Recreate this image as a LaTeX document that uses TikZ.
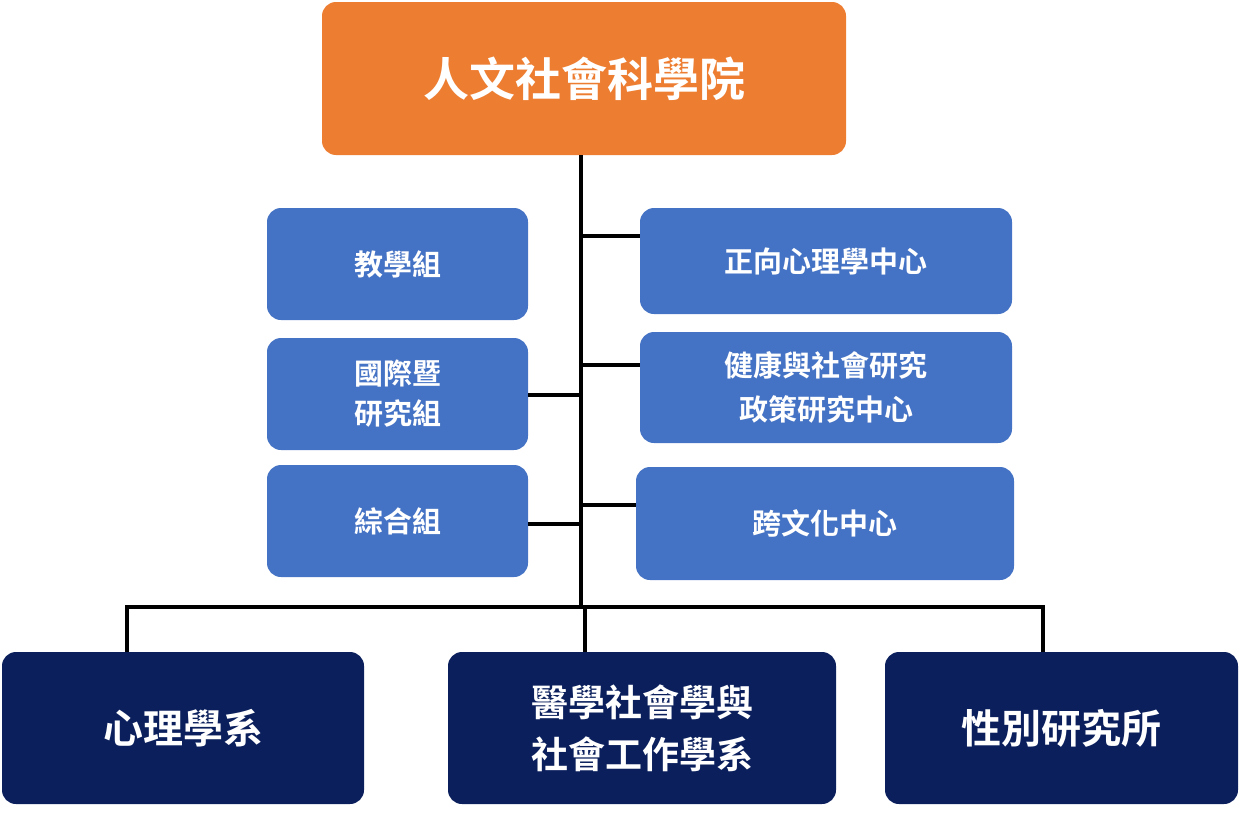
\documentclass[tikz,border=0pt]{standalone}
\usepackage{fontspec}
\setmainfont{Noto Sans CJK TC Bold}
\definecolor{orangeC}{HTML}{ED7D31}
\definecolor{blueC}{HTML}{4472C4}
\definecolor{navyC}{HTML}{0A1F5C}
\begin{document}
\begin{tikzpicture}[x=1pt,y=-1pt,
  bx/.style={rounded corners=14pt,text=white,align=center,inner sep=0pt},
  ln/.style={line width=4.5pt,black}]
\useasboundingbox (0,0) rectangle (1242,819);
\node[bx,fill=orangeC,minimum width=524pt,minimum height=153pt,font=\fontsize{46}{50}\selectfont] (top) at (584,78.5) {人文社會科學院};
\node[bx,fill=blueC,minimum width=261pt,minimum height=112pt,font=\fontsize{29}{40}\selectfont] (l1) at (397.5,264) {教學組};
\node[bx,fill=blueC,minimum width=261pt,minimum height=112pt,font=\fontsize{29}{40}\selectfont] (l2) at (397.5,394) {國際暨\\研究組};
\node[bx,fill=blueC,minimum width=261pt,minimum height=112pt,font=\fontsize{29}{40}\selectfont] (l3) at (397.5,521) {綜合組};
\node[bx,fill=blueC,minimum width=372pt,minimum height=106pt,font=\fontsize{29}{40}\selectfont] (r1) at (826,261) {正向心理學中心};
\node[bx,fill=blueC,minimum width=372pt,minimum height=111pt,font=\fontsize{29}{44}\selectfont] (r2) at (826,387.5) {健康與社會研究\\政策研究中心};
\node[bx,fill=blueC,minimum width=378pt,minimum height=113pt,font=\fontsize{29}{40}\selectfont] (r3) at (825,523.5) {跨文化中心};
\node[bx,fill=navyC,minimum width=362pt,minimum height=152pt,font=\fontsize{40}{52}\selectfont] (b1) at (183,728) {心理學系};
\node[bx,fill=navyC,minimum width=388pt,minimum height=152pt,font=\fontsize{37}{52}\selectfont] (b2) at (642,728) {醫學社會學與\\社會工作學系};
\node[bx,fill=navyC,minimum width=353pt,minimum height=152pt,font=\fontsize{40}{52}\selectfont] (b3) at (1061.5,728) {性別研究所};
\coordinate (t0) at (581,155);
\coordinate (t1) at (581,607);
\draw[ln] (t0) -- (t1);
\draw[ln] (581,236) -- (r1.west |- 0,236);
\draw[ln] (581,365) -- (r2.west |- 0,365);
\draw[ln] (581,505) -- (r3.west |- 0,505);
\draw[ln] (l2.east |- 0,395) -- (581,395);
\draw[ln] (l3.east |- 0,524) -- (581,524);
\draw[ln] (127,652) |- (585,607) -| (1043,652);
\draw[ln] (585,607) -- (585,652);
\end{tikzpicture}
\end{document}
